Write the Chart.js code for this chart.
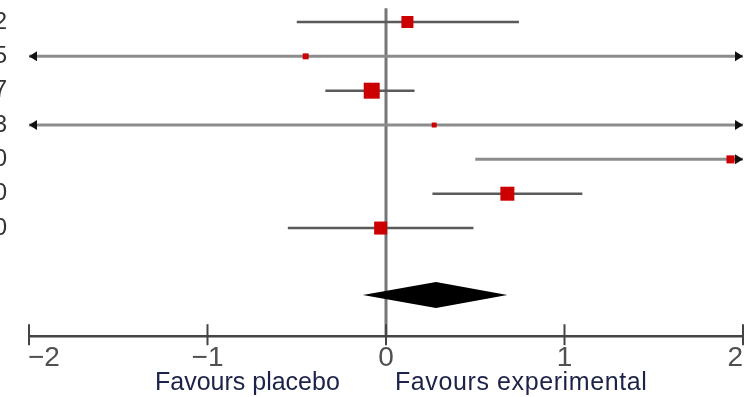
<!DOCTYPE html>
<html>
<head>
<meta charset="utf-8">
<script src="https://cdn.jsdelivr.net/npm/chart.js@4"></script>
<style>
  html, body { margin: 0; padding: 0; background: #fff; }
  #forest { display: block; }
</style>
</head>
<body>
<canvas id="forest" width="749" height="397"></canvas>
<script>
// study rows, top to bottom
const studies = ['2012', '2015', '2017', '2013', '2010', '2010', '2010'];
const estimates = [0.12, -0.45, -0.08, 0.27, 1.93, 0.68, -0.03];
const lowerCI = [-0.50, -3.6, -0.34, -3.4, 0.50, 0.26, -0.55];
const upperCI = [0.745, 2.8, 0.16, 2.9, 3.3, 1.10, 0.49];
const weights = [8.5, 4.2, 11.3, 3.5, 5.7, 9.9, 9.2];
// pooled estimate (diamond)
const pooled = { est: 0.28, lo: -0.13, hi: 0.68 };
const xTicks = [-2, -1, 0, 1, 2];
const sideLabels = ['Favours placebo', 'Favours experimental'];

const rows = studies.map((s, i) => ({ x: estimates[i], y: i + 1 }));
const POOLED_ROW = 8.95;
const AXIS_ROW = 10.15;

const forestPlugin = {
  id: 'forest',
  beforeDatasetsDraw(chart) {
    const { ctx, scales: { x, y } } = chart;
    const xmin = x.min, xmax = x.max;
    ctx.save();

    // null line
    ctx.strokeStyle = '#767676';
    ctx.lineWidth = 3;
    ctx.beginPath();
    ctx.moveTo(x.getPixelForValue(0), y.getPixelForValue(0.6));
    ctx.lineTo(x.getPixelForValue(0), y.getPixelForValue(AXIS_ROW));
    ctx.stroke();

    // confidence intervals
    studies.forEach((s, i) => {
      const yp = y.getPixelForValue(i + 1);
      const lo = Math.max(lowerCI[i], xmin);
      const hi = Math.min(upperCI[i], xmax);
      const clipped = lowerCI[i] < xmin || upperCI[i] > xmax;
      ctx.strokeStyle = clipped ? '#8c8c8c' : '#5a5a5a';
      ctx.lineWidth = clipped ? 3 : 2.5;
      ctx.beginPath();
      ctx.moveTo(x.getPixelForValue(lo), yp);
      ctx.lineTo(x.getPixelForValue(hi), yp);
      ctx.stroke();
      ctx.fillStyle = '#111';
      if (lowerCI[i] < xmin) {
        const xp = x.getPixelForValue(xmin);
        ctx.beginPath();
        ctx.moveTo(xp, yp);
        ctx.lineTo(xp + 8, yp - 5);
        ctx.lineTo(xp + 8, yp + 5);
        ctx.closePath();
        ctx.fill();
      }
      if (upperCI[i] > xmax) {
        const xp = x.getPixelForValue(xmax);
        ctx.beginPath();
        ctx.moveTo(xp, yp);
        ctx.lineTo(xp - 8, yp - 5);
        ctx.lineTo(xp - 8, yp + 5);
        ctx.closePath();
        ctx.fill();
      }
    });

    // study labels (cut off at the left edge)
    ctx.fillStyle = '#333';
    ctx.font = '24px "Liberation Sans Narrow", "Liberation Sans", sans-serif';
    ctx.textAlign = 'right';
    ctx.textBaseline = 'middle';
    studies.forEach((s, i) => ctx.fillText(s, 7, y.getPixelForValue(i + 1)));

    // pooled diamond
    const dy = y.getPixelForValue(POOLED_ROW);
    ctx.fillStyle = '#000';
    ctx.beginPath();
    ctx.moveTo(x.getPixelForValue(pooled.lo), dy);
    ctx.lineTo(x.getPixelForValue(pooled.est), dy - 13);
    ctx.lineTo(x.getPixelForValue(pooled.hi), dy);
    ctx.lineTo(x.getPixelForValue(pooled.est), dy + 13);
    ctx.closePath();
    ctx.fill();

    // x axis
    const ay = y.getPixelForValue(AXIS_ROW);
    ctx.strokeStyle = '#444';
    ctx.lineWidth = 2.5;
    ctx.beginPath();
    ctx.moveTo(x.getPixelForValue(xmin), ay);
    ctx.lineTo(x.getPixelForValue(xmax), ay);
    ctx.stroke();
    ctx.lineWidth = 2;
    ctx.font = '28px "Liberation Sans Narrow", "Liberation Sans", sans-serif';
    ctx.textBaseline = 'top';
    ctx.fillStyle = '#505050';
    const leftEdge = x.getPixelForValue(xmin) - 1;
    const rightEdge = x.getPixelForValue(xmax);
    xTicks.forEach(t => {
      const xp = x.getPixelForValue(t);
      ctx.beginPath();
      ctx.moveTo(xp, ay - 12);
      ctx.lineTo(xp, ay + 9);
      ctx.stroke();
      const label = t < 0 ? '\u2212' + Math.abs(t) : String(t);
      const w = ctx.measureText(label).width;
      const cx = Math.min(Math.max(xp, leftEdge + w / 2), rightEdge - w / 2);
      ctx.textAlign = 'center';
      ctx.fillText(label, cx, ay + 8);
    });

    // direction labels
    ctx.fillStyle = '#1c2248';
    ctx.font = '25px "Liberation Sans Narrow", "Liberation Sans", sans-serif';
    ctx.textBaseline = 'alphabetic';
    ctx.textAlign = 'left';
    ctx.fillText(sideLabels[0], 155, 390);
    ctx.letterSpacing = '0.6px';
    ctx.fillText(sideLabels[1], 395, 390);
    ctx.restore();
  }
};

new Chart(document.getElementById('forest'), {
  type: 'scatter',
  data: {
    datasets: [{
      data: rows,
      pointStyle: 'rect',
      pointRadius: weights,
      pointHoverRadius: weights,
      backgroundColor: '#cc0000',
      borderColor: '#cc0000',
      borderWidth: 0
    }]
  },
  options: {
    responsive: false,
    animation: false,
    layout: { autoPadding: false, padding: { left: 29, right: 6, top: 0, bottom: 0 } },
    plugins: { legend: { display: false }, tooltip: { enabled: false } },
    scales: {
      x: { type: 'linear', min: -2, max: 2, display: false },
      y: { type: 'linear', min: 0.359, max: 11.92, reverse: true, display: false }
    }
  },
  plugins: [forestPlugin]
});
</script>
</body>
</html>
